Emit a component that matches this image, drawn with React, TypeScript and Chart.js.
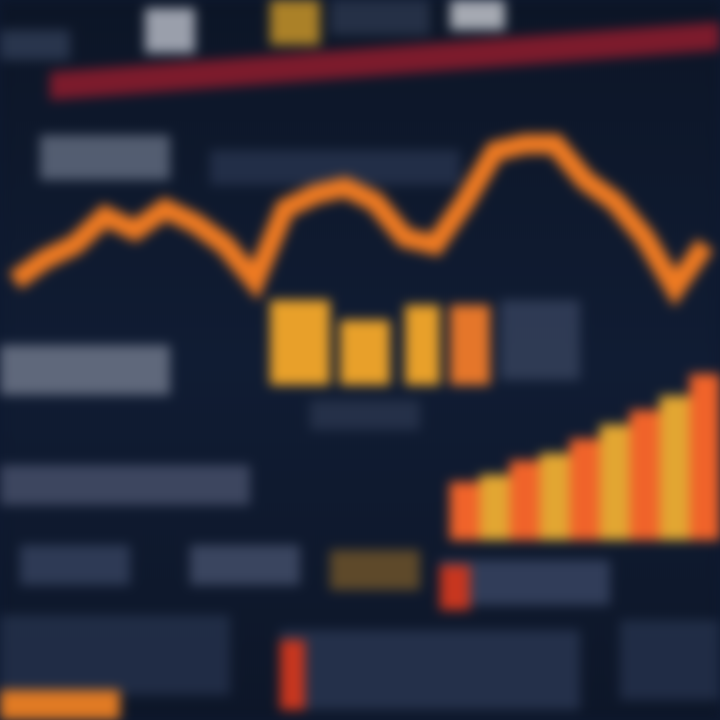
import React, { useEffect, useRef } from "react";
import { Chart, registerables } from "chart.js";
Chart.register(...registerables);

const labels = ["P1","P2","P3","P4","P5","P6","P7","P8","P9","P10","P11","P12","P13","P14","P15","P16","P17","P18","P19","P20","P21","P22","P23","P24"];
const priceLine = [61,64,66,70,68,71,69,66,61,71,73,74,72,67,66,72,79,80,80,75,72,67,60,66];
const barBase = 25;
const barTops = [null,null,null,null,null,null,null,null,null,null,null,null,null,null,null,33,34,36,37,39,41,43,45,48];
const barColors = ["#e2a632", "#f0632a"];

const backdrop = {
  id: "backdrop",
  beforeDraw(chart: any) {
    const { ctx, width, height } = chart;
    ctx.save();
    const g = ctx.createLinearGradient(0, 0, 0, height);
    g.addColorStop(0, "#0c1526");
    g.addColorStop(0.5, "#101c33");
    g.addColorStop(1, "#0d1628");
    ctx.fillStyle = g;
    ctx.fillRect(0, 0, width, height);
    ctx.fillStyle = "#7c1b2c";
    ctx.beginPath();
    ctx.moveTo(50, 72); ctx.lineTo(720, 22); ctx.lineTo(720, 50); ctx.lineTo(50, 100);
    ctx.closePath(); ctx.fill();
    const blocks: [number, number, number, number, string][] = [
      [0, 30, 70, 30, "#33405a"], [145, 8, 50, 45, "#c9ced8"], [270, 0, 50, 45, "#e0a52a"],
      [330, 0, 100, 35, "#2e3a52"], [450, 0, 55, 30, "#d8dbe2"],
      [40, 135, 130, 45, "#6b7488"], [210, 150, 250, 35, "#2a3650"],
      [0, 345, 170, 50, "#7a8294"], [500, 300, 80, 80, "#3a4660"], [310, 400, 110, 30, "#2c3850"],
      [0, 465, 250, 40, "#4d5670"],
      [20, 545, 110, 40, "#3a4663"], [190, 545, 110, 40, "#4a5470"], [330, 550, 90, 40, "#7a5a2a"],
      [440, 560, 170, 45, "#3d4a68"],
      [0, 615, 230, 80, "#27344f"], [280, 630, 300, 80, "#2c3956"], [620, 620, 100, 80, "#27344f"],
    ];
    for (const [x, y, w, h, c] of blocks) {
      ctx.fillStyle = c;
      ctx.globalAlpha = 0.75;
      ctx.fillRect(x, y, w, h);
    }
    ctx.globalAlpha = 1;
    ctx.fillStyle = "#c7361f";
    ctx.fillRect(440, 565, 30, 45);
    ctx.fillRect(280, 640, 25, 70);
    ctx.fillStyle = "#e8a02a";
    ctx.fillRect(270, 300, 60, 85);
    ctx.fillRect(340, 320, 50, 65);
    ctx.fillRect(405, 305, 35, 80);
    ctx.fillStyle = "#e5762a";
    ctx.fillRect(450, 305, 40, 80);
    ctx.fillStyle = "#e07a24";
    ctx.fillRect(0, 690, 120, 30);
    ctx.restore();
  },
};

export default function App() {
  const ref = useRef<HTMLCanvasElement | null>(null);
  useEffect(() => {
    document.body.style.margin = "0";
    const chart = new Chart(ref.current as HTMLCanvasElement, {
      type: "bar",
      data: {
        labels,
        datasets: [
          {
            type: "line",
            data: priceLine,
            borderColor: "#ee7a22",
            borderWidth: 20,
            pointRadius: 0,
            tension: 0,
            borderJoinStyle: "miter",
            order: 1,
          } as any,
          {
            type: "bar",
            data: barTops.map((v) => (v === null ? null : [barBase, v])),
            backgroundColor: barTops.map((_, i) => barColors[i % 2]),
            barPercentage: 1,
            categoryPercentage: 1,
            order: 2,
          } as any,
        ],
      },
      options: {
        responsive: false,
        animation: false,
        layout: { padding: 0 },
        plugins: { legend: { display: false }, tooltip: { enabled: false }, title: { display: false } },
        scales: {
          x: { display: false, offset: true },
          y: { display: false, min: 0, max: 100 },
        },
      },
      plugins: [backdrop],
    });
    return () => chart.destroy();
  }, []);
  return (
    <div style={{ position: "absolute", left: 0, top: 0, width: 720, height: 720, overflow: "hidden", background: "#0e1930" }}>
      <canvas ref={ref} width={720} height={720} style={{ filter: "blur(6px)" }} />
    </div>
  );
}
